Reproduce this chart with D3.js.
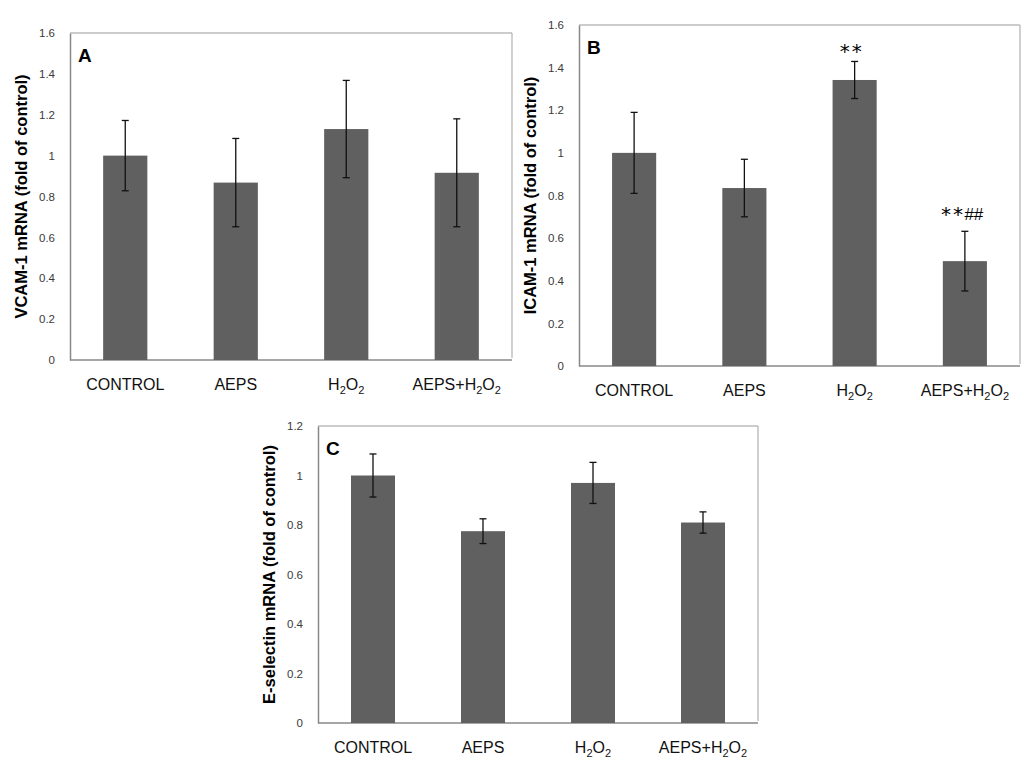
<!DOCTYPE html>
<html>
<head>
<meta charset="utf-8">
<script src="https://cdn.jsdelivr.net/npm/d3@7/dist/d3.min.js"></script>
<style>
  html, body { margin: 0; padding: 0; background: #ffffff; }
  svg { display: block; }
</style>
</head>
<body>
<svg id="chart" width="1021" height="775"></svg>
<script>
// ---- data ----
const categories = ["CONTROL", "AEPS", "H2O2", "AEPS+H2O2"];
const vcamMeans  = [1.00, 0.868, 1.130, 0.916];
const vcamErrors = [0.172, 0.216, 0.238, 0.264];
const icamMeans  = [1.00, 0.835, 1.342, 0.492];
const icamErrors = [0.190, 0.135, 0.087, 0.140];
const eselMeans  = [1.00, 0.775, 0.970, 0.810];
const eselErrors = [0.087, 0.050, 0.083, 0.043];
const ticksAB = [0, 0.2, 0.4, 0.6, 0.8, 1, 1.2, 1.4, 1.6];
const ticksC  = [0, 0.2, 0.4, 0.6, 0.8, 1, 1.2];
const icamMarks = [null, null, "**", "** ##"];

// ---- layout ----
const panels = [
  { id: "A", title: "VCAM-1 mRNA (fold of control)", means: vcamMeans, errors: vcamErrors,
    ticks: ticksAB, max: 1.6, left: 70, top: 33, right: 512, bottom: 360, marks: null },
  { id: "B", title: "ICAM-1 mRNA (fold of control)", means: icamMeans, errors: icamErrors,
    ticks: ticksAB, max: 1.6, left: 579, top: 25, right: 1020, bottom: 366, marks: icamMarks },
  { id: "C", title: "E-selectin mRNA (fold of control)", means: eselMeans, errors: eselErrors,
    ticks: ticksC, max: 1.2, left: 318, top: 426, right: 758, bottom: 723, marks: null }
];

const svg = d3.select("#chart");
const font = "Arial, 'Liberation Sans', sans-serif";

function addCategoryLabel(sel, name) {
  const parts = name.split(/(2)/).filter(s => s !== "");
  let lowered = false;
  parts.forEach(p => {
    if (p === "2") {
      sel.append("tspan").attr("font-size", "11px").attr("dy", lowered ? 0 : 4).text("2");
      lowered = true;
    } else {
      sel.append("tspan").attr("dy", lowered ? -4 : 0).text(p);
      lowered = false;
    }
  });
}

panels.forEach(p => {
  const g = svg.append("g");
  const x = d3.scaleBand().domain(categories).range([p.left, p.right])
    .paddingInner(0.6).paddingOuter(0.3);
  const y = d3.scaleLinear().domain([0, p.max]).range([p.bottom, p.top]);

  // frame
  g.append("line").attr("x1", p.left).attr("x2", p.right).attr("y1", p.top).attr("y2", p.top)
    .attr("stroke", "#9a9a9a").attr("stroke-width", 1.2);
  g.append("line").attr("x1", p.right).attr("x2", p.right).attr("y1", p.top).attr("y2", p.bottom - 2)
    .attr("stroke", "#b0b0b0").attr("stroke-width", 1.2);

  // y axis
  const yAxis = d3.axisLeft(y).tickValues(p.ticks).tickSize(0).tickPadding(15)
    .tickFormat(d => d3.format("~g")(d));
  const ya = g.append("g").attr("transform", `translate(${p.left},0)`).call(yAxis);
  ya.select(".domain").attr("stroke", "#888").attr("stroke-width", 1.5);
  ya.selectAll("text").attr("font-family", font).attr("font-size", "11.5px").attr("fill", "#3a3a3a");

  // x axis line
  g.append("line").attr("x1", p.left).attr("x2", p.right).attr("y1", p.bottom).attr("y2", p.bottom)
    .attr("stroke", "#888").attr("stroke-width", 1.5);

  // bars
  g.selectAll("rect.bar").data(categories).enter().append("rect")
    .attr("class", "bar")
    .attr("x", d => x(d))
    .attr("width", x.bandwidth())
    .attr("y", (d, i) => y(p.means[i]))
    .attr("height", (d, i) => y(0) - y(p.means[i]))
    .attr("fill", "#606060");

  // error bars
  const cap = 3.5;
  categories.forEach((c, i) => {
    const cx = x(c) + x.bandwidth() / 2;
    const hi = y(p.means[i] + p.errors[i]);
    const lo = y(p.means[i] - p.errors[i]);
    g.append("line").attr("x1", cx).attr("x2", cx).attr("y1", hi).attr("y2", lo)
      .attr("stroke", "#111").attr("stroke-width", 1.3);
    g.append("line").attr("x1", cx - cap).attr("x2", cx + cap).attr("y1", hi).attr("y2", hi)
      .attr("stroke", "#111").attr("stroke-width", 1.3);
    g.append("line").attr("x1", cx - cap).attr("x2", cx + cap).attr("y1", lo).attr("y2", lo)
      .attr("stroke", "#111").attr("stroke-width", 1.3);
  });

  // category labels
  categories.forEach(c => {
    const t = g.append("text")
      .attr("x", x(c) + x.bandwidth() / 2)
      .attr("y", p.bottom + 30)
      .attr("text-anchor", "middle")
      .attr("font-family", font)
      .attr("font-size", "16px")
      .attr("fill", "#111");
    addCategoryLabel(t, c);
  });

  // y title
  g.append("text")
    .attr("transform", `translate(${p.left - 43},${(p.top + p.bottom) / 2}) rotate(-90)`)
    .attr("text-anchor", "middle")
    .attr("font-family", font)
    .attr("font-weight", "bold")
    .attr("font-size", "16.5px")
    .attr("fill", "#000")
    .text(p.title);

  // panel letter
  g.append("text")
    .attr("x", p.left + 8)
    .attr("y", p.top + 29)
    .attr("font-family", font)
    .attr("font-weight", "bold")
    .attr("font-size", "19px")
    .attr("fill", "#000")
    .text(p.id);

  // significance marks
  if (p.marks) {
    categories.forEach((c, i) => {
      const m = p.marks[i];
      if (!m) return;
      const cx = x(c) + x.bandwidth() / 2;
      const top = y(p.means[i] + p.errors[i]);
      const parts = m.split(" ");
      if (parts.length === 1) {
        g.append("text").attr("x", cx - 3).attr("y", top - 3)
          .attr("text-anchor", "middle").attr("font-family", "'DejaVu Sans', sans-serif")
          .attr("font-size", "20px").attr("letter-spacing", "2px").attr("fill", "#000").text(parts[0]);
      } else {
        g.append("text").attr("x", cx - 12).attr("y", top - 10)
          .attr("text-anchor", "middle").attr("font-family", "'DejaVu Sans', sans-serif")
          .attr("font-size", "20px").attr("letter-spacing", "2px").attr("fill", "#000").text(parts[0]);
        g.append("text").attr("x", cx + 9).attr("y", top - 11)
          .attr("text-anchor", "middle").attr("font-family", font)
          .attr("font-size", "17px").attr("fill", "#000").text(parts[1]);
      }
    });
  }
});
</script>
</body>
</html>
